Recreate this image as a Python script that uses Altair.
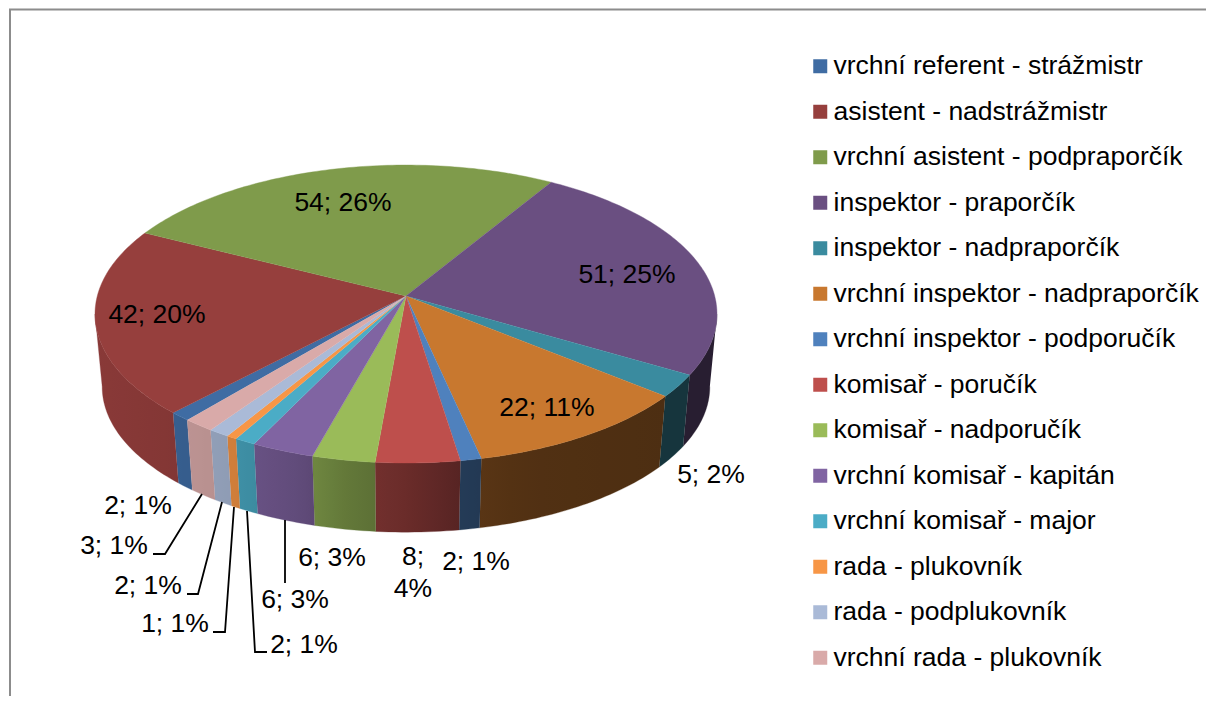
import math
import altair as alt
import pandas as pd

names = ["vrchní referent - strážmistr", "asistent - nadstrážmistr", "vrchní asistent - podpraporčík",
         "inspektor - praporčík", "inspektor - nadpraporčík", "vrchní inspektor - nadpraporčík",
         "vrchní inspektor - podporučík", "komisař - poručík", "komisař - nadporučík",
         "vrchní komisař - kapitán", "vrchní komisař - major", "rada - plukovník",
         "rada - podplukovník", "vrchní rada - plukovník"]
values = [2, 42, 54, 51, 5, 22, 2, 8, 6, 6, 2, 1, 2, 3]
colors = ["#3f6ca3", "#963f3d", "#7f9b4b", "#6a4f81", "#3a8b9f", "#c8782f", "#4f81bd",
          "#be4f4c", "#9abb59", "#8064a2", "#4bacc6", "#f79646", "#aabad7", "#d9aaa9"]

label_text = ["54; 26%", "51; 25%", "42; 20%", "22; 11%", "5; 2%", "2; 1%", "8;", "4%",
              "6; 3%", "6; 3%", "2; 1%", "1; 1%", "2; 1%", "3; 1%", "2; 1%"]
label_x = [343, 627, 157, 547, 711, 476, 413, 413, 332, 295, 304, 175, 148, 114, 138]
label_y = [203, 275, 315, 408, 475, 562, 557, 589, 558, 600, 645, 624, 586, 546, 506]

leader_x = [[202, 165, 153], [222, 198, 187], [234, 225, 213], [247, 255, 267], [285, 285]]
leader_y = [[494, 554, 554], [502, 594, 594], [507, 632, 632], [511, 652, 652], [520, 583]]

frame_x = [1206, 10, 10]
frame_y = [9.5, 9.5, 696]

W, H = 1198, 688
OX, OY = 8, 8
CX, CY = 406, 296
A, B, K = 308.7, 146.8, 0.121
START = 220.0
DEPTH = 73
S = 0.977
total = sum(values)


def top_pt(deg):
    t = math.radians(deg)
    X_, Y_ = math.sin(t), -math.cos(t)
    d = 1 - K * Y_
    return A * X_ / d, B * Y_ / d


def hexmul(c, m):
    rgb = [int(c[i:i + 2], 16) for i in (1, 3, 5)]
    return "#%02x%02x%02x" % tuple(min(255, int(v * m)) for v in rgb)


shade_x = [-1.0, -0.55, -0.35, -0.2, 0.0, 0.18, 0.4, 1.0]
shade_m = [0.92, 0.84, 0.76, 0.65, 0.56, 0.46, 0.41, 0.38]


def shade(x):
    for i in range(len(shade_x) - 1):
        if x <= shade_x[i + 1]:
            f = (x - shade_x[i]) / (shade_x[i + 1] - shade_x[i])
            return shade_m[i] + f * (shade_m[i + 1] - shade_m[i])
    return shade_m[-1]


xs = alt.Scale(domain=[0, W], nice=False, zero=False)
ys = alt.Scale(domain=[H, 0], nice=False, zero=False)
X = alt.X("x:Q", scale=xs, axis=None)
Y = alt.Y("y:Q", scale=ys, axis=None)

top_rows, wall_layers = [], []
cum = 0
sil = math.degrees(math.asin(K))
front_a, front_b = 90 + sil, 270 - sil
for name, v, c in zip(names, values, colors):
    a0 = START + cum / total * 360
    a1 = START + (cum + v) / total * 360
    cum += v
    pts = [(CX, CY)]
    n = max(2, int(a1 - a0))
    for j in range(n + 1):
        x, y = top_pt(a0 + (a1 - a0) * j / n)
        pts.append((CX + x, CY + y))
    for o, (px, py) in enumerate(pts):
        top_rows.append({"name": name, "o": o, "x": px - OX, "y": py - OY})
    # outer wall of the slice, filled with a left-to-right light falloff
    for shift in (0, 360, -360):
        lo = max(a0 + shift, front_a)
        hi = min(a1 + shift, front_b)
        if hi <= lo:
            continue
        m = max(2, int(hi - lo))
        arc = [top_pt(lo + (hi - lo) * j / m) for j in range(m + 1)]
        poly = [(CX + x, CY + y) for x, y in arc] + \
               [(CX + S * x, CY + DEPTH + S * y) for x, y in reversed(arc)]
        wall = pd.DataFrame([{"o": o, "x": px - OX, "y": py - OY} for o, (px, py) in enumerate(poly)])
        xmin, xmax = min(p[0] for p in poly), max(p[0] for p in poly)
        stops = []
        for j in range(7):
            f = j / 6
            nx = (xmin + (xmax - xmin) * f - CX) / 311
            stops.append(alt.GradientStop(offset=f, color=hexmul(c, shade(nx))))
        grad = alt.LinearGradient(gradient="linear", x1=0, y1=0, x2=1, y2=0, stops=stops)
        wall_layers.append(alt.Chart(wall).mark_line(fill=grad, stroke=hexmul(c, shade(((xmin + xmax) / 2 - CX) / 311)),
                                                     strokeWidth=0.3).encode(X, Y, order="o:Q"))

top_df = pd.DataFrame(top_rows)
label_df = pd.DataFrame({"t": label_text, "x": [v - OX for v in label_x], "y": [v - OY for v in label_y]})
lead_df = pd.DataFrame([{"g": g, "o": o, "x": a - OX, "y": b - OY}
                        for g, (lx, ly) in enumerate(zip(leader_x, leader_y))
                        for o, (a, b) in enumerate(zip(lx, ly))])
frame_df = pd.DataFrame({"o": range(3), "x": [v - OX for v in frame_x], "y": [v - OY for v in frame_y]})

frame = alt.Chart(frame_df).mark_line(color="#8c8c8c", strokeWidth=2).encode(X, Y, order="o:Q")
top = alt.Chart(top_df).mark_line(strokeWidth=0.4).encode(
    X, Y, order="o:Q",
    fill=alt.Fill("name:N", scale=alt.Scale(domain=names, range=colors),
                  legend=alt.Legend(title=None, orient="none", legendX=799, legendY=45,
                                    symbolType="square", symbolSize=196, symbolStrokeWidth=0,
                                    labelFontSize=26.5, labelFont="Liberation Sans", labelColor="#000000",
                                    labelOffset=0, rowPadding=18.5, labelLimit=400, padding=0)),
    stroke=alt.Stroke("name:N", scale=alt.Scale(domain=names, range=colors), legend=None),
)
leaders = alt.Chart(lead_df).mark_line(color="#000000", strokeWidth=1.8).encode(X, Y, order="o:Q", detail="g:N")
labels = alt.Chart(label_df).mark_text(font="Liberation Sans", fontSize=26.5, color="#000000",
                                       align="center", baseline="middle").encode(X, Y, text="t:N")

chart = alt.layer(frame, *wall_layers, top, leaders, labels).properties(
    width=W, height=H, padding=0, autosize="none", background="#ffffff"
).configure_view(stroke=None)

chart.save("out.html", embed_options={"renderer": "svg", "actions": False})
